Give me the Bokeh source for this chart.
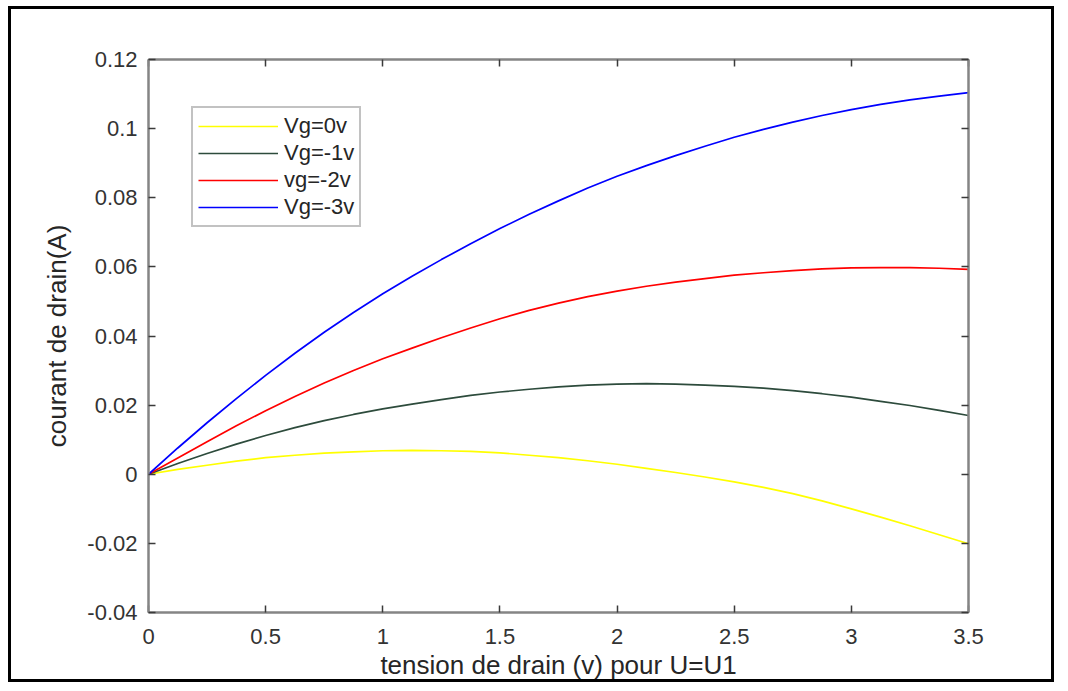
from bokeh.plotting import figure
from bokeh.models import LinearAxis, FixedTicker, Range1d, Legend, LegendItem
from bokeh.embed import file_html
from bokeh.resources import INLINE

# ---- data ----
vd = [0.0, 0.125, 0.25, 0.375, 0.5, 0.625, 0.75, 0.875, 1.0, 1.125, 1.25, 1.375, 1.5,
      1.625, 1.75, 1.875, 2.0, 2.125, 2.25, 2.375, 2.5, 2.625, 2.75, 2.875, 3.0,
      3.125, 3.25, 3.375, 3.5]
id_vg0 = [0.0, 0.0014, 0.0026, 0.0038, 0.0048, 0.0055, 0.0061, 0.0065, 0.0068, 0.0069,
          0.0068, 0.0066, 0.0062, 0.0055, 0.0048, 0.0039, 0.0029, 0.0017, 0.0005, -0.0008,
          -0.0022, -0.0038, -0.0056, -0.0077, -0.0100, -0.0124, -0.0149, -0.0175, -0.0201]
id_vg1 = [0.0, 0.0031, 0.0060, 0.0087, 0.0112, 0.0135, 0.0155, 0.0173, 0.0189, 0.0203,
          0.0216, 0.0228, 0.0238, 0.0246, 0.0253, 0.0258, 0.0261, 0.0262, 0.0261, 0.0258,
          0.0254, 0.0249, 0.0242, 0.0233, 0.0223, 0.0211, 0.0199, 0.0185, 0.0170]
id_vg2 = [0.0, 0.0047, 0.0094, 0.0140, 0.0184, 0.0225, 0.0264, 0.0300, 0.0334, 0.0365,
          0.0395, 0.0423, 0.0450, 0.0474, 0.0495, 0.0514, 0.0530, 0.0544, 0.0556, 0.0566,
          0.0576, 0.0583, 0.0589, 0.0594, 0.0597, 0.0598, 0.0598, 0.0596, 0.0593]
id_vg3 = [0.0, 0.0076, 0.0149, 0.0219, 0.0286, 0.0350, 0.0411, 0.0468, 0.0522, 0.0573,
          0.0621, 0.0667, 0.0711, 0.0752, 0.0791, 0.0828, 0.0862, 0.0893, 0.0922, 0.0949,
          0.0975, 0.0998, 0.1019, 0.1038, 0.1055, 0.1070, 0.1083, 0.1094, 0.1104]

series_names = ["Vg=0v", "Vg=-1v", "vg=-2v", "Vg=-3v"]
series_colors = ["#ffff00", "#2d4b3c", "#ff0000", "#0000ff"]

x_ticks = [0, 0.5, 1, 1.5, 2, 2.5, 3, 3.5]
x_tick_labels = ["0", "0.5", "1", "1.5", "2", "2.5", "3", "3.5"]
y_ticks = [-0.04, -0.02, 0, 0.02, 0.04, 0.06, 0.08, 0.1, 0.12]
y_tick_labels = ["-0.04", "-0.02", "0", "0.02", "0.04", "0.06", "0.08", "0.1", "0.12"]

x_label = "tension de drain (v) pour U=U1"
y_label = "courant de drain(A)"

FONT = "Liberation Sans"
AXIS_COLOR = "#858585"
TICK_COLOR = "#3a3a3a"
TEXT_COLOR = "#333333"

p = figure(width=1046, height=676, output_backend="svg", toolbar_location=None,
           x_range=Range1d(0, 3.5), y_range=Range1d(-0.04, 0.12),
           min_border_left=137, min_border_right=89, min_border_top=50, min_border_bottom=73,
           x_axis_label=x_label, y_axis_label=y_label)
p.styles = {"margin-left": "8px", "margin-top": "6px", "border": "3px solid black"}
p.grid.visible = False
p.outline_line_color = None
p.background_fill_color = "white"
p.border_fill_color = "white"

renderers = []
for ys, c in zip([id_vg0, id_vg1, id_vg2, id_vg3], series_colors):
    r = p.line(vd, ys, line_color=c, line_width=1.7)
    renderers.append(r)

def style_axis(ax, labels=True):
    ax.axis_line_color = AXIS_COLOR
    ax.axis_line_width = 2.5
    ax.major_tick_line_color = TICK_COLOR
    ax.major_tick_line_width = 1.5
    ax.major_tick_in = 7
    ax.major_tick_out = 0
    ax.minor_tick_line_color = None
    ax.major_label_text_font = FONT
    ax.major_label_text_font_size = "22px"
    ax.major_label_text_color = TEXT_COLOR
    ax.axis_label_text_font = FONT
    ax.axis_label_text_font_size = "26px"
    ax.axis_label_text_font_style = "normal"
    ax.axis_label_text_color = "#262626"
    if not labels:
        ax.major_label_text_alpha = 0
        ax.major_label_text_font_size = "1px"

xa = p.xaxis[0]
xa.ticker = FixedTicker(ticks=x_ticks)
xa.major_label_overrides = {t: l for t, l in zip(x_ticks, x_tick_labels)}
style_axis(xa)
xa.major_label_standoff = 16
xa.axis_label_standoff = 3

ya = p.yaxis[0]
ya.ticker = FixedTicker(ticks=y_ticks)
ya.major_label_overrides = {t: l for t, l in zip(y_ticks, y_tick_labels)}
style_axis(ya)
ya.major_label_standoff = 11
ya.axis_label_standoff = 12

top = LinearAxis(ticker=FixedTicker(ticks=x_ticks))
style_axis(top, labels=False)
p.add_layout(top, "above")
right = LinearAxis(ticker=FixedTicker(ticks=y_ticks))
style_axis(right, labels=False)
p.add_layout(right, "right")

legend = Legend(items=[LegendItem(label=n, renderers=[r]) for n, r in zip(series_names, renderers)],
                location=(43, 385))
legend.border_line_color = AXIS_COLOR
legend.border_line_width = 2
legend.background_fill_color = "white"
legend.background_fill_alpha = 1
legend.label_text_font = FONT
legend.label_text_font_size = "22px"
legend.label_text_color = "#262626"
legend.glyph_width = 80
legend.glyph_height = 22
legend.label_height = 22
legend.spacing = 1
legend.padding = 5
legend.margin = 0
legend.label_standoff = 6
p.add_layout(legend, "center")

open("out.html", "w").write(file_html(p, INLINE))
